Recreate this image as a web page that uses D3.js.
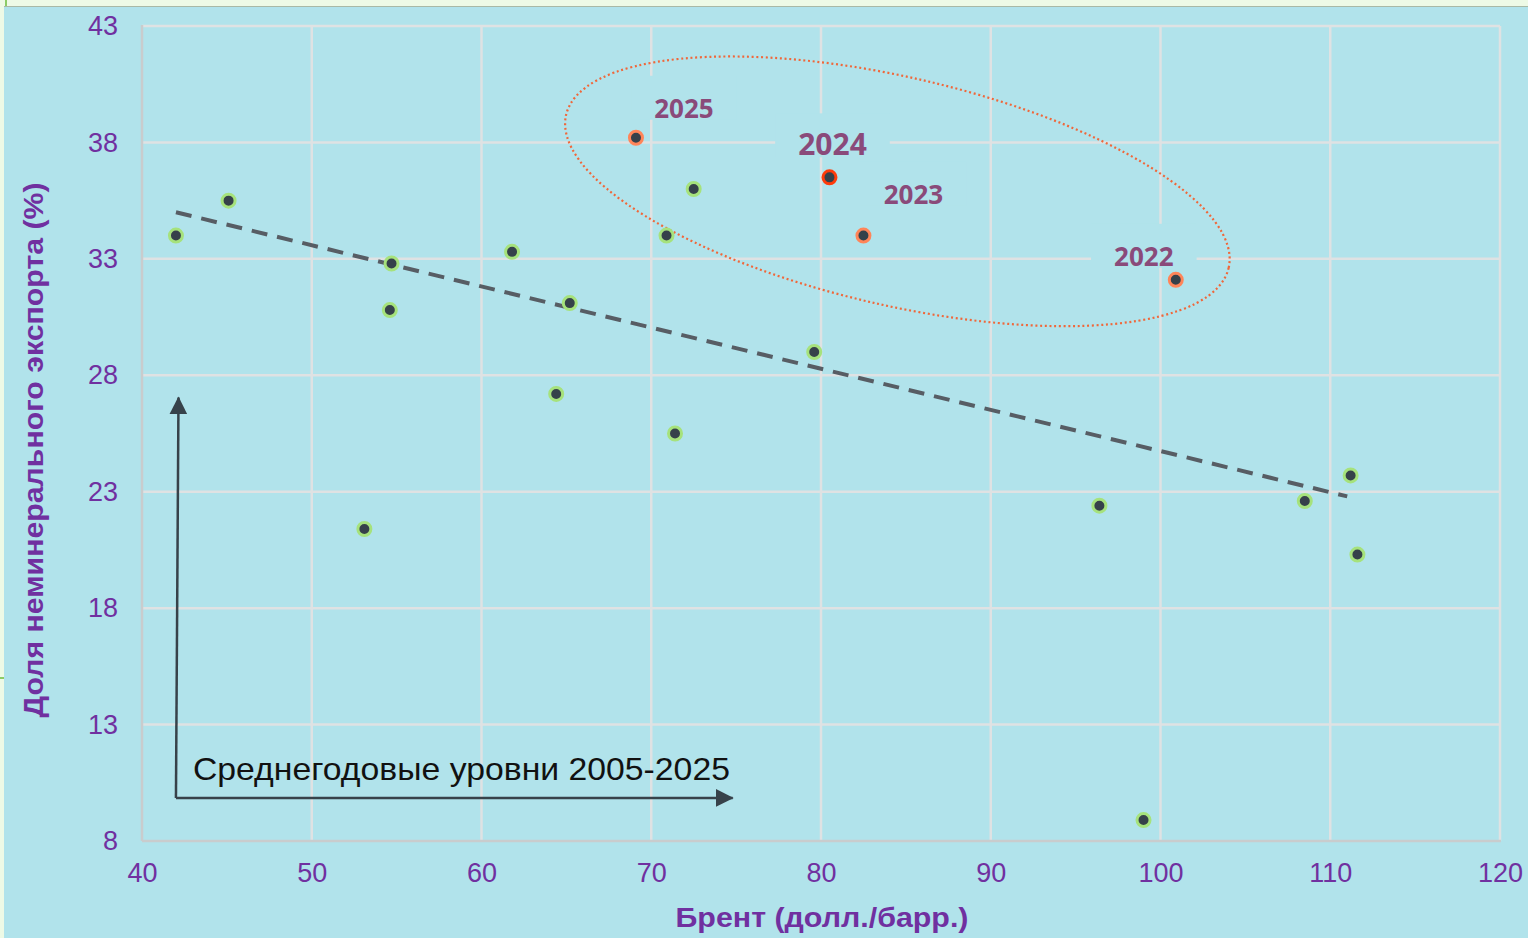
<!DOCTYPE html>
<html>
<head>
<meta charset="utf-8">
<script src="https://cdn.jsdelivr.net/npm/d3@7"></script>
<style>
  body { margin: 0; background: #eefae6; overflow: hidden; }
</style>
</head>
<body>
<div id="chart"></div>
<script>
// annual averages 2005-2025
var years = [2005, 2006, 2007, 2008, 2009, 2010, 2011, 2012, 2013, 2014, 2015,
  2016, 2017, 2018, 2019, 2020, 2021, 2022, 2023, 2024, 2025];
var brent = [54.7, 65.2, 72.5, 96.4, 61.8, 79.6, 111.2, 111.6, 108.5, 99.0, 53.1,
  45.1, 54.6, 71.4, 64.4, 42.0, 70.9, 100.9, 82.5, 80.5, 69.1];
var share = [32.8, 31.1, 36.0, 22.4, 33.3, 29.0, 23.7, 20.3, 22.6, 8.9, 21.4,
  35.5, 30.8, 25.5, 27.2, 34.0, 34.0, 32.1, 34.0, 36.5, 38.2];

var labelYears = [2022, 2023, 2024, 2025];
var xTicks = [40, 50, 60, 70, 80, 90, 100, 110, 120];
var yTicks = [8, 13, 18, 23, 28, 33, 38, 43];

// trend line end points
var trendX = [42, 111];
var trendY = [35.0, 22.8];

var xTitle = "Брент (долл./барр.)";
var yTitle = "Доля неминерального экспорта (%)";
var noteText = "Среднегодовые уровни 2005-2025";

const W = 1528;
const H = 938;
const bg = "#b1e3eb";
const font = "'Liberation Sans', Arial, sans-serif";

const svg = d3.select("#chart")
  .append("svg")
  .attr("width", W)
  .attr("height", H);

// page frame
svg.append("rect").attr("x", 0).attr("y", 0).attr("width", W).attr("height", H).attr("fill", "#eefae6");
svg.append("rect").attr("x", 4).attr("y", 7).attr("width", W - 4).attr("height", H - 7).attr("fill", bg);
svg.append("line").attr("x1", 4).attr("x2", W).attr("y1", 6.5).attr("y2", 6.5)
  .attr("stroke", "#a9b9a6").attr("stroke-width", 1);
svg.append("rect").attr("x", 5).attr("y", 0).attr("width", 2).attr("height", 6).attr("fill", "#8ccc66");
svg.append("rect").attr("x", 0).attr("y", 677).attr("width", 4).attr("height", 2).attr("fill", "#8ccc66");

const x = d3.scaleLinear().domain([40, 120]).range([142, 1500]);
const y = d3.scaleLinear().domain([8, 43]).range([841, 26]);

// grid
const grid = svg.append("g").attr("class", "grid");
grid.selectAll(".vg")
  .data(xTicks.slice(1))
  .enter()
  .append("line")
  .attr("x1", function (d) { return x(d); })
  .attr("x2", function (d) { return x(d); })
  .attr("y1", y(43))
  .attr("y2", y(8))
  .attr("stroke", "#dfe2e3")
  .attr("stroke-width", 2.5);
grid.selectAll(".hg")
  .data(yTicks.slice(1))
  .enter()
  .append("line")
  .attr("x1", x(40))
  .attr("x2", x(120))
  .attr("y1", function (d) { return y(d); })
  .attr("y2", function (d) { return y(d); })
  .attr("stroke", "#dfe2e3")
  .attr("stroke-width", 2.5);
// axis lines
grid.append("line").attr("x1", x(40)).attr("x2", x(40)).attr("y1", y(43) - 1).attr("y2", y(8))
  .attr("stroke", "#c9cccd").attr("stroke-width", 2.5);
grid.append("line").attr("x1", x(40)).attr("x2", x(120) + 1).attr("y1", y(8)).attr("y2", y(8))
  .attr("stroke", "#c9cccd").attr("stroke-width", 2.5);

// axes (labels only)
const xAxis = svg.append("g")
  .attr("transform", "translate(0," + y(8) + ")")
  .call(d3.axisBottom(x).tickValues(xTicks).tickSize(0).tickPadding(22));
const yAxis = svg.append("g")
  .attr("transform", "translate(" + x(40) + ",0)")
  .call(d3.axisLeft(y).tickValues(yTicks).tickSize(0).tickPadding(24));
[xAxis, yAxis].forEach(function (a) {
  a.select(".domain").remove();
  a.selectAll("text")
    .attr("fill", "#7030a0")
    .style("font-family", font)
    .style("font-size", "27px");
});

// axis titles
svg.append("text")
  .attr("x", 822)
  .attr("y", 927)
  .attr("text-anchor", "middle")
  .attr("fill", "#7030a0")
  .attr("textLength", 293)
  .attr("lengthAdjust", "spacingAndGlyphs")
  .style("font-family", font)
  .style("font-size", "28px")
  .style("font-weight", "bold")
  .text(xTitle);
svg.append("text")
  .attr("transform", "translate(43,450) rotate(-90)")
  .attr("text-anchor", "middle")
  .attr("fill", "#7030a0")
  .attr("textLength", 535)
  .attr("lengthAdjust", "spacingAndGlyphs")
  .style("font-family", font)
  .style("font-size", "28px")
  .style("font-weight", "bold")
  .text(yTitle);

// trend
var line = d3.line()
  .x(function (d) { return x(d[0]); })
  .y(function (d) { return y(d[1]); });
svg.append("path")
  .datum(d3.zip(trendX, trendY))
  .attr("d", line)
  .attr("fill", "none")
  .attr("stroke", "#575d64")
  .attr("stroke-width", 4)
  .attr("stroke-dasharray", "16,10");

// ellipse around recent years
svg.append("ellipse")
  .attr("transform", "translate(" + x(84.5) + "," + y(35.9) + ") rotate(13)")
  .attr("rx", 340)
  .attr("ry", 114)
  .attr("fill", "none")
  .attr("stroke", "#f0673a")
  .attr("stroke-width", 2.2)
  .attr("stroke-dasharray", "2,2.7");

// arrows
const defs = svg.append("defs");
defs.append("marker")
  .attr("id", "arr")
  .attr("viewBox", "0 0 18 18")
  .attr("refX", 17)
  .attr("refY", 9)
  .attr("markerWidth", 18)
  .attr("markerHeight", 18)
  .attr("markerUnits", "userSpaceOnUse")
  .attr("orient", "auto")
  .append("path")
  .attr("d", "M0,0 L18,9 L0,18 Z")
  .attr("fill", "#37424a");

svg.append("path")
  .datum([[42.0, 9.85], [42.15, 27.05]])
  .attr("d", line)
  .attr("stroke", "#37424a")
  .attr("stroke-width", 2.5)
  .attr("fill", "none")
  .attr("marker-end", "url(#arr)");
svg.append("path")
  .datum([[42.0, 9.85], [74.8, 9.85]])
  .attr("d", line)
  .attr("stroke", "#37424a")
  .attr("stroke-width", 2.5)
  .attr("fill", "none")
  .attr("marker-end", "url(#arr)");
svg.append("text")
  .attr("x", x(42) + 17)
  .attr("y", y(9.85) - 18)
  .attr("fill", "#111")
  .attr("textLength", 537)
  .attr("lengthAdjust", "spacingAndGlyphs")
  .style("font-family", font)
  .style("font-size", "32px")
  .text(noteText);

// year labels with background boxes
var labelStyle = {
  2022: { dx: -32, dy: -14, size: 26 },
  2023: { dx: 50, dy: -32, size: 26 },
  2024: { dx: 3, dy: -22, size: 30 },
  2025: { dx: 48, dy: -20, size: 26 }
};
labelYears.forEach(function (yr) {
  var i = years.indexOf(yr);
  var s = labelStyle[yr];
  var g = svg.append("g");
  var t = g.append("text")
    .attr("x", x(brent[i]) + s.dx)
    .attr("y", y(share[i]) + s.dy)
    .attr("text-anchor", "middle")
    .attr("fill", "#8a4a7a")
    .style("font-family", "'Open Sans', sans-serif")
    .style("font-weight", "bold")
    .style("font-size", s.size + "px")
    .text(yr);
  var b = t.node().getBBox();
  g.insert("rect", "text")
    .attr("x", b.x - 23)
    .attr("y", y(share[i]) + s.dy - 42)
    .attr("width", b.width + 46)
    .attr("height", 44)
    .attr("fill", bg);
});

// points
function ringColor(yr) {
  if (yr === 2024) return "#ff3b0a";
  if (labelYears.indexOf(yr) >= 0) return "#ff8559";
  return "#a6e27c";
}
svg.append("g")
  .selectAll("circle")
  .data(years)
  .enter()
  .append("circle")
  .attr("cx", function (d, i) { return x(brent[i]); })
  .attr("cy", function (d, i) { return y(share[i]); })
  .attr("r", 6.5)
  .attr("fill", "#36414a")
  .attr("stroke", function (d) { return ringColor(d); })
  .attr("stroke-width", 3);
</script>
</body>
</html>
